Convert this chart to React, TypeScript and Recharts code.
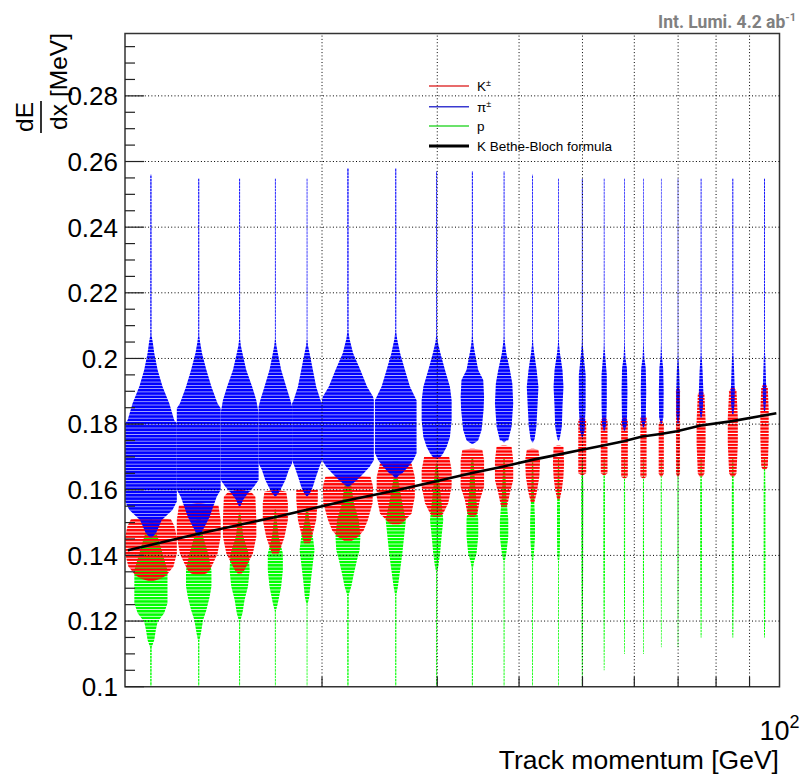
import React from 'react';
import { ComposedChart, Area, Line, XAxis, YAxis, ReferenceLine, ReferenceArea } from 'recharts';

// momentum bins (GeV) of the violins
const momentumBins: number[][] = [
  [10, 12], [12, 14], [14, 16], [16, 18], [18, 20], [20, 24], [24, 28], [28, 32], [32, 36], [36, 40],
  [40, 44], [44, 48], [48, 52], [52, 56], [56, 60], [60, 64], [64, 68], [68, 72], [72, 80], [80, 90], [90, 100],
];

// violin outlines: [dE/dx, fraction of bin width]
const pionProfiles: number[][][] = [
  [[0.1455,0.05],[0.1468,0.2],[0.1508,0.42],[0.1538,0.83],[0.1564,1],[0.1803,1],[0.1812,0.9],[0.1863,0.71],[0.1914,0.45],[0.1965,0.26],[0.2016,0.13],[0.205,0.07],[0.207,0.025],[0.256,0.025]],
  [[0.146,0.04],[0.1467,0.1],[0.1487,0.27],[0.1518,0.5],[0.1548,0.66],[0.1579,0.82],[0.1599,1],[0.1848,1],[0.1863,0.86],[0.1914,0.58],[0.1965,0.35],[0.2016,0.15],[0.205,0.06],[0.207,0.025],[0.255,0.025]],
  [[0.155,0.04],[0.1555,0.08],[0.157,0.2],[0.159,0.45],[0.1609,0.75],[0.163,1],[0.1833,1],[0.1873,0.88],[0.1914,0.66],[0.1965,0.35],[0.2016,0.15],[0.204,0.06],[0.206,0.025],[0.255,0.025]],
  [[0.158,0.04],[0.159,0.2],[0.1609,0.4],[0.163,0.6],[0.166,0.8],[0.168,1],[0.1853,1],[0.1873,0.9],[0.1914,0.65],[0.1965,0.35],[0.2016,0.15],[0.204,0.06],[0.206,0.025],[0.255,0.025]],
  [[0.158,0.04],[0.159,0.2],[0.1609,0.39],[0.164,0.6],[0.167,0.83],[0.169,1],[0.1863,1],[0.1873,0.9],[0.1914,0.61],[0.1965,0.39],[0.2016,0.17],[0.204,0.06],[0.206,0.025],[0.255,0.025]],
  [[0.161,0.04],[0.162,0.2],[0.163,0.35],[0.165,0.61],[0.167,0.84],[0.169,1],[0.1873,1],[0.1883,0.97],[0.1914,0.74],[0.1965,0.48],[0.2016,0.2],[0.206,0.06],[0.208,0.025],[0.258,0.025]],
  [[0.1635,0.04],[0.1645,0.15],[0.165,0.3],[0.167,0.57],[0.169,0.8],[0.1711,0.95],[0.1873,0.95],[0.1883,0.87],[0.1914,0.65],[0.1965,0.42],[0.2016,0.2],[0.206,0.06],[0.208,0.025],[0.258,0.025]],
  [[0.1695,0.04],[0.17,0.2],[0.1711,0.35],[0.1731,0.53],[0.1761,0.7],[0.1812,0.79],[0.1873,0.79],[0.1914,0.7],[0.1965,0.44],[0.2016,0.2],[0.205,0.06],[0.207,0.025],[0.257,0.025]],
  [[0.174,0.04],[0.1745,0.2],[0.1751,0.35],[0.1782,0.55],[0.1843,0.67],[0.1883,0.7],[0.1934,0.65],[0.1965,0.35],[0.2026,0.12],[0.205,0.05],[0.207,0.03],[0.257,0.03]],
  [[0.1745,0.04],[0.175,0.15],[0.1751,0.28],[0.1792,0.5],[0.1863,0.61],[0.1924,0.55],[0.1965,0.39],[0.2016,0.15],[0.205,0.05],[0.207,0.03],[0.257,0.03]],
  [[0.1745,0.04],[0.1755,0.15],[0.1792,0.28],[0.1863,0.37],[0.1914,0.43],[0.1965,0.3],[0.2016,0.12],[0.204,0.05],[0.206,0.03],[0.256,0.03]],
  [[0.175,0.04],[0.176,0.12],[0.1792,0.27],[0.1853,0.32],[0.1914,0.4],[0.1965,0.32],[0.2016,0.12],[0.204,0.05],[0.206,0.03],[0.255,0.03]],
  [[0.176,0.04],[0.178,0.2],[0.185,0.3],[0.195,0.3],[0.2,0.15],[0.204,0.05],[0.206,0.035],[0.255,0.035]],
  [[0.178,0.04],[0.18,0.2],[0.186,0.25],[0.195,0.25],[0.2,0.12],[0.203,0.05],[0.205,0.035],[0.255,0.035]],
  [[0.178,0.04],[0.18,0.25],[0.19,0.3],[0.197,0.25],[0.2,0.1],[0.203,0.05],[0.205,0.035],[0.255,0.035]],
  [[0.179,0.04],[0.181,0.25],[0.19,0.3],[0.197,0.25],[0.2,0.1],[0.203,0.05],[0.205,0.035],[0.255,0.035]],
  [[0.18,0.04],[0.182,0.25],[0.19,0.28],[0.197,0.22],[0.2,0.1],[0.203,0.05],[0.205,0.035],[0.255,0.035]],
  [[0.18,0.04],[0.183,0.2],[0.19,0.22],[0.196,0.15],[0.2,0.06],[0.202,0.035],[0.255,0.035]],
  [[0.182,0.04],[0.185,0.12],[0.19,0.15],[0.196,0.1],[0.2,0.05],[0.202,0.03],[0.255,0.03]],
  [[0.183,0.04],[0.186,0.1],[0.19,0.12],[0.196,0.08],[0.2,0.05],[0.202,0.03],[0.255,0.03]],
  [[0.184,0.04],[0.187,0.1],[0.19,0.12],[0.196,0.08],[0.2,0.05],[0.202,0.03],[0.255,0.03]],
];

const kaonProfiles: number[][][] = [
  [[0.1322,0.1],[0.133,0.4],[0.134,0.61],[0.1366,0.87],[0.1406,1],[0.1457,1],[0.149,0.9],[0.151,0.77],[0.1514,0.1]],
  [[0.134,0.1],[0.1345,0.35],[0.1355,0.5],[0.1376,0.66],[0.1406,0.86],[0.1457,1],[0.1508,1],[0.1553,0.9],[0.1558,0.1]],
  [[0.1345,0.1],[0.1355,0.25],[0.1376,0.44],[0.1406,0.7],[0.1457,0.88],[0.1508,0.88],[0.1579,0.83],[0.1594,0.6],[0.16,0.1]],
  [[0.1406,0.2],[0.1426,0.35],[0.1457,0.55],[0.1508,0.75],[0.1559,0.75],[0.1594,0.65],[0.16,0.1]],
  [[0.1437,0.2],[0.1467,0.39],[0.1508,0.61],[0.1569,0.72],[0.1599,0.72],[0.1605,0.1]],
  [[0.1445,0.15],[0.1457,0.4],[0.1477,0.61],[0.1508,0.77],[0.1559,0.95],[0.1609,0.97],[0.164,0.87],[0.1645,0.1]],
  [[0.1495,0.15],[0.1498,0.3],[0.1528,0.72],[0.1579,0.87],[0.164,0.87],[0.168,0.72],[0.1685,0.1]],
  [[0.1518,0.2],[0.1528,0.35],[0.1559,0.61],[0.1609,0.79],[0.166,0.79],[0.17,0.66],[0.1705,0.1]],
  [[0.1518,0.15],[0.1528,0.3],[0.1569,0.45],[0.1609,0.7],[0.169,0.7],[0.1721,0.6],[0.1725,0.1]],
  [[0.1548,0.2],[0.159,0.39],[0.163,0.61],[0.169,0.61],[0.1731,0.5],[0.1735,0.1]],
  [[0.156,0.12],[0.159,0.3],[0.164,0.5],[0.169,0.55],[0.1721,0.43],[0.1725,0.1]],
  [[0.157,0.1],[0.1599,0.27],[0.164,0.4],[0.168,0.45],[0.1731,0.4],[0.1735,0.1]],
  [[0.1645,0.1],[0.165,0.35],[0.1812,0.35],[0.182,0.1]],
  [[0.1645,0.1],[0.165,0.32],[0.1812,0.32],[0.182,0.1]],
  [[0.1635,0.1],[0.164,0.34],[0.1812,0.34],[0.182,0.1]],
  [[0.1635,0.1],[0.164,0.34],[0.182,0.34],[0.1825,0.1]],
  [[0.164,0.1],[0.165,0.3],[0.18,0.3],[0.181,0.1]],
  [[0.164,0.1],[0.165,0.25],[0.19,0.25],[0.191,0.1]],
  [[0.164,0.1],[0.165,0.22],[0.174,0.3],[0.181,0.3],[0.189,0.22],[0.19,0.1]],
  [[0.164,0.1],[0.165,0.22],[0.174,0.3],[0.182,0.3],[0.19,0.22],[0.191,0.1]],
  [[0.166,0.1],[0.167,0.22],[0.176,0.28],[0.184,0.28],[0.191,0.22],[0.192,0.1]],
];

const protonProfiles: number[][][] = [
  [[0.1,0.025],[0.112,0.03],[0.1142,0.13],[0.1173,0.19],[0.1198,0.26],[0.1224,0.51],[0.1254,0.64],[0.1355,0.64],[0.1406,0.45],[0.1457,0.26],[0.1498,0.1],[0.151,0.04]],
  [[0.1,0.025],[0.114,0.03],[0.1163,0.1],[0.1203,0.2],[0.1234,0.35],[0.1274,0.5],[0.1305,0.58],[0.1355,0.58],[0.1406,0.43],[0.1457,0.2],[0.151,0.1],[0.152,0.04]],
  [[0.1,0.025],[0.12,0.03],[0.1224,0.15],[0.1264,0.26],[0.1305,0.44],[0.1355,0.53],[0.1406,0.48],[0.1457,0.2],[0.151,0.08],[0.153,0.04]],
  [[0.1,0.025],[0.123,0.03],[0.1254,0.15],[0.1305,0.35],[0.1355,0.45],[0.1406,0.45],[0.1457,0.2],[0.151,0.08],[0.154,0.04]],
  [[0.1,0.025],[0.125,0.03],[0.1274,0.15],[0.1325,0.26],[0.1376,0.39],[0.1416,0.5],[0.1457,0.39],[0.1508,0.15],[0.155,0.04]],
  [[0.1,0.025],[0.128,0.03],[0.1305,0.13],[0.1345,0.23],[0.1386,0.35],[0.1416,0.45],[0.1457,0.48],[0.1508,0.42],[0.1559,0.23],[0.163,0.1],[0.164,0.04]],
  [[0.1,0.025],[0.128,0.03],[0.1305,0.1],[0.1355,0.2],[0.1406,0.3],[0.1457,0.38],[0.1508,0.46],[0.1559,0.3],[0.1635,0.1],[0.165,0.04]],
  [[0.1,0.025],[0.135,0.03],[0.137,0.1],[0.1406,0.18],[0.1457,0.26],[0.1508,0.35],[0.1559,0.26],[0.165,0.1],[0.168,0.04]],
  [[0.1,0.03],[0.136,0.035],[0.138,0.1],[0.1406,0.25],[0.1457,0.35],[0.1508,0.35],[0.159,0.2],[0.167,0.1],[0.17,0.04]],
  [[0.1,0.03],[0.138,0.035],[0.1406,0.15],[0.1457,0.28],[0.1508,0.28],[0.158,0.15],[0.168,0.06],[0.17,0.04]],
  [[0.1,0.03],[0.138,0.035],[0.1406,0.1],[0.1457,0.18],[0.1508,0.18],[0.159,0.1],[0.17,0.04]],
  [[0.1,0.03],[0.138,0.035],[0.14,0.1],[0.145,0.12],[0.155,0.12],[0.16,0.08],[0.17,0.04]],
  [[0.1,0.035],[0.14,0.08],[0.16,0.1],[0.17,0.04]],
  [[0.105,0.035],[0.14,0.08],[0.16,0.08],[0.17,0.04]],
  [[0.11,0.035],[0.14,0.06],[0.16,0.06],[0.17,0.035]],
  [[0.11,0.035],[0.14,0.06],[0.16,0.06],[0.17,0.035]],
  [[0.112,0.035],[0.14,0.06],[0.16,0.06],[0.17,0.035]],
  [[0.112,0.035],[0.14,0.06],[0.16,0.06],[0.17,0.035]],
  [[0.115,0.03],[0.14,0.06],[0.16,0.06],[0.17,0.03]],
  [[0.115,0.03],[0.14,0.06],[0.16,0.06],[0.17,0.03]],
  [[0.115,0.03],[0.14,0.06],[0.16,0.06],[0.17,0.03]],
];

// K Bethe-Bloch curve
const bbMomentum = [10.1, 13.0, 17.0, 21.9, 25.9, 29.9, 33.9, 37.9, 41.9, 45.9, 49.9, 53.8, 57.8, 61.7, 65.8, 69.7, 75.8, 84.7, 94.6, 98.9];
const bbDedx = [0.1416, 0.1467, 0.1517, 0.1568, 0.1598, 0.1626, 0.1651, 0.1671, 0.1691, 0.1707, 0.1722, 0.1735, 0.1748, 0.1762, 0.1770, 0.1778, 0.1796, 0.1809, 0.1826, 0.1833];

// axes
const xTicks = [20, 30, 40, 50, 60, 70, 80, 90, 100];
const xGridValues = [20, 30, 40, 50, 60, 70, 80, 90];
const yMajorTicks = [0.1, 0.12, 0.14, 0.16, 0.18, 0.2, 0.22, 0.24, 0.26, 0.28];
const yMajorLabels = ['0.1', '0.12', '0.14', '0.16', '0.18', '0.2', '0.22', '0.24', '0.26', '0.28'];
const yMinorTicks = [0.105, 0.11, 0.115, 0.125, 0.13, 0.135, 0.145, 0.15, 0.155, 0.165, 0.17, 0.175, 0.185, 0.19, 0.195, 0.205, 0.21, 0.215, 0.225, 0.23, 0.235, 0.245, 0.25, 0.255, 0.265, 0.27, 0.275, 0.285, 0.29, 0.295];
const yGridValues = [0.12, 0.14, 0.16, 0.18, 0.2, 0.22, 0.24, 0.26, 0.28];

const FONT = '"Liberation Sans", Arial, Helvetica, sans-serif';

function violinData(bin: number[], profile: number[][]) {
  const [lo, hi] = bin;
  const c = Math.sqrt(lo * hi);
  const ratio = hi / lo;
  return profile.map(([v, f]) => ({ v, r: [c * Math.pow(ratio, -f / 2), c * Math.pow(ratio, f / 2)] }));
}

// drawing order: protons, kaons, pions
const species = [
  { key: 'proton', profiles: protonProfiles },
  { key: 'kaon', profiles: kaonProfiles },
  { key: 'pion', profiles: pionProfiles },
];

const bbData = bbMomentum.map((p, i) => ({ p, v: bbDedx[i] }));
const yTicks = [...yMajorTicks, ...yMinorTicks].sort((a, b) => a - b);

const YTick = (props: any) => {
  const { x, y, payload } = props;
  const idx = yMajorTicks.findIndex((t) => Math.abs(t - payload.value) < 1e-9);
  const major = idx >= 0;
  return (
    <g>
      <line x1={x} x2={x + (major ? 19 : 10)} y1={y} y2={y} stroke="#222" strokeWidth={1.2} />
      {major && (
        <text x={x - 7} y={y} dy="0.36em" textAnchor="end" fontSize={26} fontFamily={FONT} fill="#000">
          {yMajorLabels[idx]}
        </text>
      )}
    </g>
  );
};

const XTick = (props: any) => {
  const { x, y, payload } = props;
  if (payload.value === 100) {
    return (
      <text x={x} y={y + 53} textAnchor="middle" fontSize={27} fontFamily={FONT} fill="#000">
        10<tspan dy={-12} fontSize={18}>2</tspan>
      </text>
    );
  }
  return <line x1={x} x2={x} y1={y} y2={y - 10} stroke="#222" strokeWidth={1.2} />;
};

const PERIOD = 3.283;

export default function App() {
  return (
    <div style={{ position: 'absolute', left: 0, top: 0, width: 802, height: 774, background: '#fff' }}>
      <svg width={0} height={0} style={{ position: 'absolute', left: 0, top: 0 }}>
        <defs>
          <pattern id="stripe-kaon" patternUnits="userSpaceOnUse" x={0} y={686.7} width={8} height={PERIOD}>
            <rect x={0} y={0} width={8} height={2.3} fill="#ff0000" />
          </pattern>
          <pattern id="stripe-proton" patternUnits="userSpaceOnUse" x={0} y={686.7 - 1.1} width={8} height={PERIOD}>
            <rect x={0} y={0} width={8} height={2.5} fill="#00ff00" />
          </pattern>
          <pattern id="stripe-pion" patternUnits="userSpaceOnUse" x={0} y={686.7 - 2.2} width={8} height={PERIOD}>
            <rect x={0} y={0} width={8} height={2.7} fill="#0000ff" />
          </pattern>
        </defs>
      </svg>
      <ComposedChart width={802} height={774} layout="vertical" margin={{ top: 33.5, right: 22.5, bottom: 27.3, left: 65 }}>
        <XAxis
          type="number"
          scale="log"
          domain={[10, 100]}
          allowDataOverflow
          ticks={xTicks}
          interval={0}
          tickLine={false}
          axisLine={false}
          tickSize={0}
          tickMargin={0}
          height={60}
          tick={<XTick />}
        />
        <YAxis
          type="number"
          dataKey="v"
          domain={[0.1, 0.299]}
          allowDataOverflow
          reversed
          ticks={yTicks}
          interval={0}
          width={60}
          tickLine={false}
          axisLine={false}
          tickSize={0}
          tickMargin={0}
          tick={<YTick />}
        />
        {xGridValues.map((x) => (
          <ReferenceLine key={'gx' + x} x={x} stroke="#000" strokeWidth={1} strokeDasharray="1 2.3" />
        ))}
        {yGridValues.map((y) => (
          <ReferenceLine key={'gy' + y} y={y} stroke="#000" strokeWidth={1} strokeDasharray="1 2.3" />
        ))}
        {species.map((s) =>
          s.profiles.map((prof, i) => (
            <Area
              key={s.key + i}
              data={violinData(momentumBins[i], prof)}
              dataKey="r"
              type="linear"
              stroke="none"
              fill={`url(#stripe-${s.key})`}
              fillOpacity={1}
              dot={false}
              activeDot={false}
              isAnimationActive={false}
            />
          ))
        )}
        <Line data={bbData} dataKey="p" type="linear" stroke="#000" strokeWidth={2.6} dot={false} activeDot={false} isAnimationActive={false} />
        <ReferenceArea x1={10} x2={100} y1={0.1} y2={0.299} fill="none" stroke="#333" strokeWidth={1.5} />
      </ComposedChart>
      <svg width={802} height={774} style={{ position: 'absolute', left: 0, top: 0, pointerEvents: 'none' }}>
        {/* legend */}
        <line x1={429} x2={469} y1={86} y2={86} stroke="#e03a3a" strokeWidth={1.6} />
        <text x={477} y={91} fontSize={13.5} fontFamily={FONT} fill="#000">K<tspan dy={-5} fontSize={9}>±</tspan></text>
        <line x1={429} x2={469} y1={106.7} y2={106.7} stroke="#3a3ad0" strokeWidth={1.6} />
        <text x={477} y={111.7} fontSize={13.5} fontFamily={FONT} fill="#000">π<tspan dy={-5} fontSize={9}>±</tspan></text>
        <line x1={429} x2={469} y1={126} y2={126} stroke="#3ad83a" strokeWidth={1.6} />
        <text x={477} y={131} fontSize={13.5} fontFamily={FONT} fill="#000">p</text>
        <line x1={429} x2={469} y1={146} y2={146} stroke="#000" strokeWidth={3} />
        <text x={477} y={151} fontSize={13.5} fontFamily={FONT} fill="#000">K Bethe-Bloch formula</text>
        {/* lumi */}
        <text x={796} y={28} textAnchor="end" fontSize={17.5} fontWeight="bold" fontFamily="Roboto, sans-serif" fill="#808080">
          Int. Lumi. 4.2 ab<tspan dy={-7} fontSize={11}>-1</tspan>
        </text>
        {/* x title */}
        <text x={779} y={769} textAnchor="end" fontSize={26.5} fontFamily={FONT} fill="#000">Track momentum [GeV]</text>
        {/* y title */}
        <g transform="rotate(-90)">
          <text x={-117} y={33} textAnchor="middle" fontSize={24.5} fontFamily={FONT} fill="#000">dE</text>
          <line x1={-133} x2={-101} y1={41} y2={41} stroke="#000" strokeWidth={1.6} />
          <text x={-117} y={67} textAnchor="middle" fontSize={24.5} fontFamily={FONT} fill="#000">dx</text>
          <text x={-97} y={67} textAnchor="start" fontSize={24.5} fontFamily={FONT} fill="#000">[MeV]</text>
        </g>
      </svg>
    </div>
  );
}
